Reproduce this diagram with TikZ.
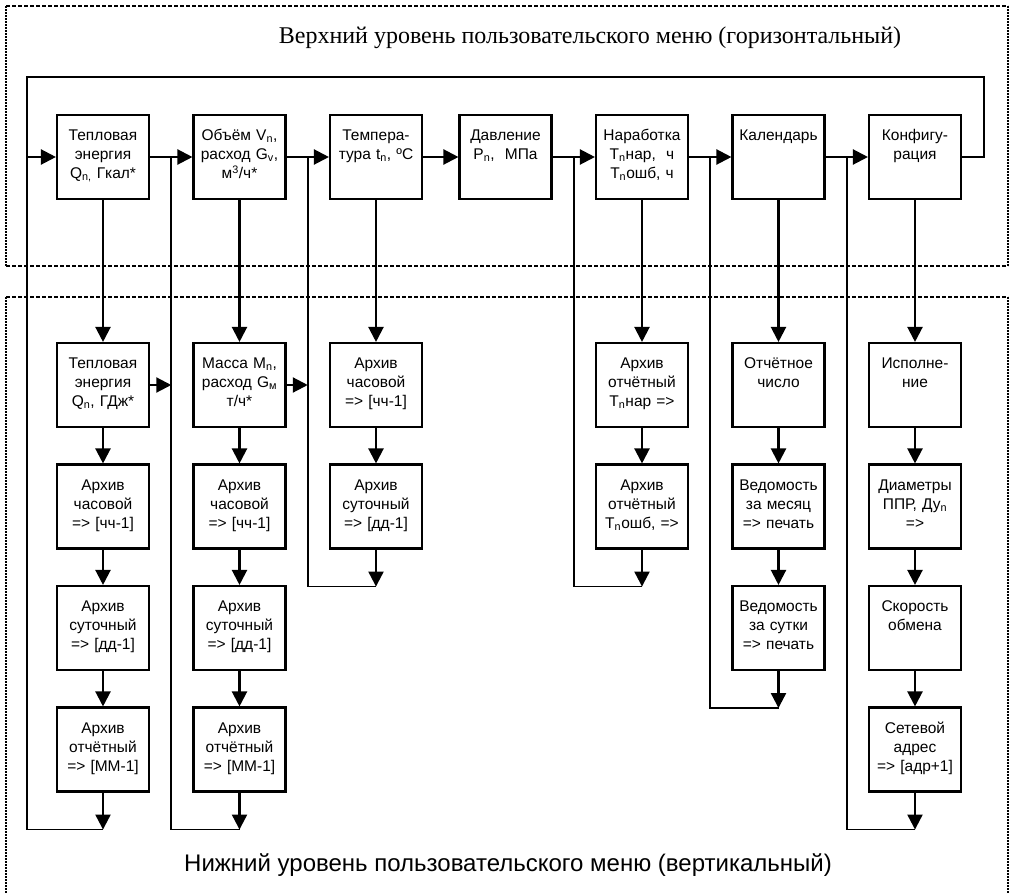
\documentclass[tikz,border=0pt]{standalone}
\usepackage{fontspec}
\setmainfont{Liberation Sans}
\newfontfamily\titleserif{Liberation Serif}
\usetikzlibrary{arrows.meta,positioning,calc}
\tikzstyle{menubox} = [rectangle, draw, fill=white, line width=2.1pt, minimum width=92pt, minimum height=84pt, text width=88pt, inner sep=2pt, align=center, text height=15.5pt, text depth=48.5pt, font=\fontsize{15.5}{19}\selectfont]
\tikzstyle{submenu} = [menubox, node distance=121.5pt]
\tikzstyle{retline} = [-, line width=1.7pt]
\tikzstyle{hframe} = [-, line width=1.8pt, dash pattern=on 4pt off 2pt]
\tikzstyle{vframe} = [-, line width=1.8pt, dash pattern=on 2pt off 1pt]

\begin{document}
\begin{tikzpicture}[-{Triangle[length=15pt,width=15pt]},line width=2.2pt,node distance=136.5pt,x=1pt,y=1pt]
  \useasboundingbox (0,0) rectangle (1013,-894);
  % dashed frames
  \draw[hframe] (6,-6) -- (1008,-6);
  \draw[hframe] (6,-266) -- (1008,-266);
  \draw[vframe] (6,-6) -- (6,-266);
  \draw[vframe] (1008,-6) -- (1008,-266);
  \draw[hframe] (6,-297) -- (1008,-297);
  \draw[vframe] (6,-297) -- (6,-894);
  \draw[vframe] (1008,-297) -- (1008,-894);
  \node[font=\titleserif\fontsize{24}{28}\selectfont] (toptitle) at (590,-38) {Верхний уровень пользовательского меню (горизонтальный)};
  \node[font=\fontsize{24}{28}\selectfont] (bottitle) at (508,-865) {Нижний уровень пользовательского меню (вертикальный)};

  % upper level
  \node[menubox] (T1) at (103,-157) {Тепловая\\энергия\\Q\textsubscript{n,} Гкал*};
  \node[menubox] (T2) [right of=T1] {Объём V\textsubscript{n},\\расход G\textsubscript{v},\\м\textsuperscript{3}/ч*};
  \node[menubox] (T3) [right of=T2] {Темпера-\\тура t\textsubscript{n}, ºC};
  \node[menubox] (T4) [node distance=129.5pt, right of=T3] {Давление\\P\textsubscript{n},\ \ МПа};
  \node[menubox] (T5) [right of=T4] {Наработка\\T\textsubscript{n}нар,\ \ ч\\T\textsubscript{n}ошб, ч};
  \node[menubox] (T6) [right of=T5] {Календарь};
  \node[menubox] (T7) [right of=T6] {Конфигу-\\рация};

  % lower level
  \node[submenu] (A1) [node distance=228pt, below of=T1] {Тепловая\\энергия\\Q\textsubscript{n}, ГДж*};
  \node[submenu] (A2) [below of=A1] {Архив\\часовой\\=> [чч-1]};
  \node[submenu] (A3) [below of=A2] {Архив\\суточный\\=> [дд-1]};
  \node[submenu] (A4) [below of=A3] {Архив\\отчётный\\=> [ММ-1]};
  \node[submenu] (B1) [node distance=228pt, below of=T2] {Масса M\textsubscript{n},\\расход G\textsubscript{м}\\т/ч*};
  \node[submenu] (B2) [below of=B1] {Архив\\часовой\\=> [чч-1]};
  \node[submenu] (B3) [below of=B2] {Архив\\суточный\\=> [дд-1]};
  \node[submenu] (B4) [below of=B3] {Архив\\отчётный\\=> [ММ-1]};
  \node[submenu] (C1) [node distance=228pt, below of=T3] {Архив\\часовой\\=> [чч-1]};
  \node[submenu] (C2) [below of=C1] {Архив\\суточный\\=> [дд-1]};
  \node[submenu] (N1) [node distance=228pt, below of=T5] {Архив\\отчётный\\T\textsubscript{n}нар =>};
  \node[submenu] (N2) [below of=N1] {Архив\\отчётный\\T\textsubscript{n}ошб, =>};
  \node[submenu] (K1) [node distance=228pt, below of=T6] {Отчётное\\число};
  \node[submenu] (K2) [below of=K1] {Ведомость\\за месяц\\=> печать};
  \node[submenu] (K3) [below of=K2] {Ведомость\\за сутки\\=> печать};
  \node[submenu] (F1) [node distance=228pt, below of=T7] {Исполне-\\ние};
  \node[submenu] (F2) [below of=F1] {Диаметры\\ППР, Ду\textsubscript{n}\\=>};
  \node[submenu] (F3) [below of=F2] {Скорость\\обмена};
  \node[submenu] (F4) [below of=F3] {Сетевой\\адрес\\=> [адр+1]};

  \coordinate (in1) at ($(T1.center)+(-76,0)$);
  \coordinate (j2) at ($(T1.east)!0.5!(T2.west)$);
  \coordinate (j3) at ($(T2.east)!0.5!(T3.west)$);
  \coordinate (j5) at ($(T4.east)!0.5!(T5.west)$);
  \coordinate (j6) at ($(T5.east)!0.5!(T6.west)$);
  \coordinate (j7) at ($(T6.east)!0.5!(T7.west)$);
  \coordinate (topR) at ($(T7.east)+(22,80)$);
  \coordinate (r1) at ($(A4.south)+(0,-37)$);
  \coordinate (r2) at ($(B4.south)+(0,-37)$);
  \coordinate (r3) at ($(C2.south)+(0,-37)$);
  \coordinate (r5) at ($(N2.south)+(0,-37)$);
  \coordinate (r6) at ($(K3.south)+(0,-37)$);
  \coordinate (r7) at ($(F4.south)+(0,-37)$);

  \path (in1) edge (T1);
  \path (T1) edge (T2);
  \path (T2) edge (T3);
  \path (T3) edge (T4);
  \path (T4) edge (T5);
  \path (T5) edge (T6);
  \path (T6) edge (T7);
  \draw[retline] (T7.east) -| (topR) -- (in1 |- topR) -- (in1);

  \path (T1) edge (A1);
  \path (A1) edge (A2);
  \path (A2) edge (A3);
  \path (A3) edge (A4);
  \path (A4) edge (r1);
  \path (T2) edge (B1);
  \path (B1) edge (B2);
  \path (B2) edge (B3);
  \path (B3) edge (B4);
  \path (B4) edge (r2);
  \path (T3) edge (C1);
  \path (C1) edge (C2);
  \path (C2) edge (r3);
  \path (T5) edge (N1);
  \path (N1) edge (N2);
  \path (N2) edge (r5);
  \path (T6) edge (K1);
  \path (K1) edge (K2);
  \path (K2) edge (K3);
  \path (K3) edge (r6);
  \path (T7) edge (F1);
  \path (F1) edge (F2);
  \path (F2) edge (F3);
  \path (F3) edge (F4);
  \path (F4) edge (r7);
  \path (A1) edge (A1 -| j2);
  \path (B1) edge (B1 -| j3);

  \draw[retline] (r1) -| (in1);
  \draw[retline] (r2) -| (j2);
  \draw[retline] (r3) -| (j3);
  \draw[retline] (r5) -| (j5);
  \draw[retline] (r6) -| (j6);
  \draw[retline] (r7) -| (j7);
\end{tikzpicture}
\end{document}
